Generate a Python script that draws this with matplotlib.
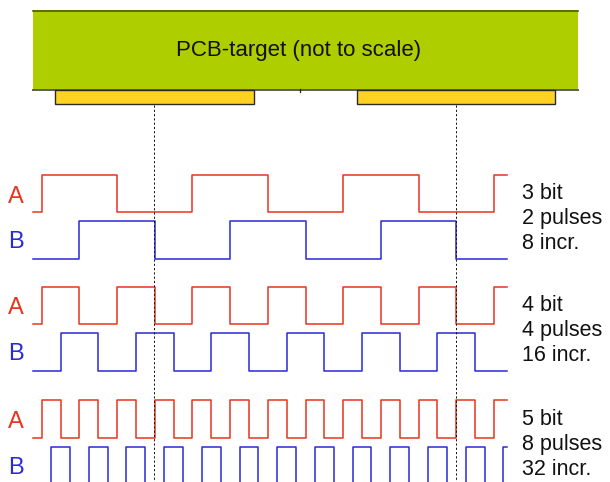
import numpy as np
import matplotlib
matplotlib.use("Agg")
import matplotlib.pyplot as plt
from matplotlib.patches import Rectangle

# ---- data ----
bits = [3, 4, 5]
pulses = [2, 4, 8]
increments = [8, 16, 32]
channels = ["A", "B"]
title = "PCB-target (not to scale)"

# ---- style ----
RED = "#E8341C"
BLUE = "#2A2AD8"
GREEN = "#AECE00"
YELLOW = "#FFD222"
FONT = "Liberation Sans"

W, H = 610, 482
fig = plt.figure(figsize=(W / 100, H / 100), dpi=100)
ax = fig.add_axes([0, 0, 1, 1])
ax.set_xlim(0, W)
ax.set_ylim(H, 0)
ax.axis("off")

# PCB target
ax.add_patch(Rectangle((33, 10.3), 545, 79.2, facecolor=GREEN, edgecolor="none", zorder=1))
ax.plot([33, 578], [10.6, 10.6], color="#4E5A10", lw=1.2, zorder=2)
ax.plot([33, 578], [89.5, 89.5], color="#5C5C5C", lw=1.4, zorder=2)
ax.plot([300, 300], [89, 91.5], color="#222222", lw=0.9, zorder=2)
ax.text(298.5, 50.5, title, ha="center", va="center", fontsize=16,
        family=FONT, color="#111111", zorder=3)

pad_centres = []
for x0, x1 in [(55, 253.5), (357, 554.5)]:
    ax.add_patch(Rectangle((x0, 89.8), x1 - x0, 14.5, facecolor=YELLOW,
                           edgecolor="#2A2A2A", lw=1.0, zorder=2))
    pad_centres.append((x0 + x1) / 2)

pitch = pad_centres[1] - pad_centres[0]  # one target pitch

for xc in pad_centres:
    ax.plot([xc, xc], [104.5, H], color="#111111", lw=0.7,
            linestyle=(0, (2.2, 2.2)), zorder=4)

X_START, X_END = 33, 506.7
FIRST_EDGE = 41.7
AMP = 37.5
group_low = [212.3, 324.0, 437.7]   # baseline (low level) of channel A per group
B_OFFSET = 46.5                     # channel B baseline below A baseline


def square_wave(first_edge, half):
    edges = np.arange(first_edge, X_END, half)
    xs = np.concatenate([[X_START], edges, [X_END]])
    lev = np.concatenate([[0], (np.arange(len(edges)) % 2 == 0).astype(float)])
    lev = np.concatenate([lev, [lev[-1]]])
    return xs, lev


for g, (b, p, inc) in enumerate(zip(bits, pulses, increments)):
    half = pitch / p / 2
    base_a = group_low[g]
    base_b = base_a + B_OFFSET
    xa, la = square_wave(FIRST_EDGE, half)
    xb, lb = square_wave(FIRST_EDGE + half / 2, half)
    ax.step(xa, base_a - AMP * la, where="post", color=RED, lw=1.1, zorder=3)
    ax.step(xb, base_b - AMP * lb, where="post", color=BLUE, lw=1.1, zorder=3)

    ax.text(16, base_a - 9.5, channels[0], ha="center", va="baseline",
            fontsize=17, family=FONT, color=RED)
    ax.text(16, base_b - 10.5, channels[1], ha="center", va="baseline",
            fontsize=17, family=FONT, color=BLUE)

    tb = base_a - 13.0
    for i, s in enumerate([f"{b} bit", f"{p} pulses", f"{inc} incr."]):
        ax.text(521.5, tb + 25 * i, s, ha="left", va="baseline",
                fontsize=15.5, family=FONT, color="#111111")

fig.savefig("out.png", dpi=100)
